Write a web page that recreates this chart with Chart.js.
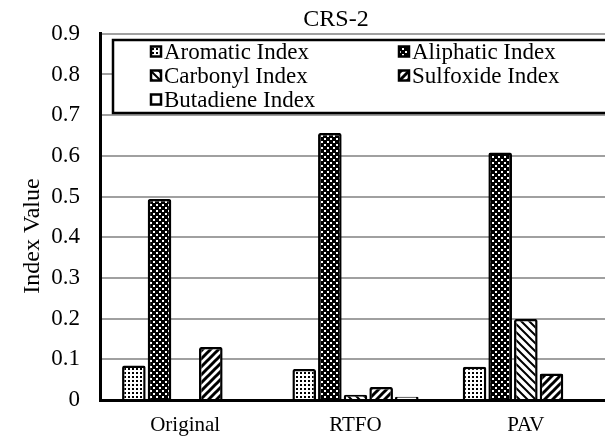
<!DOCTYPE html>
<html><head><meta charset="utf-8">
<script src="https://cdn.jsdelivr.net/npm/chart.js@4"></script>
<style>html,body{margin:0;padding:0;overflow:hidden;background:#fff}#wrap{width:612px;height:439px}</style>
</head><body><div id="wrap"><canvas id="c" width="612" height="439"></canvas></div>
<script>
const categories = ['Original', 'RTFO', 'PAV'];
const seriesNames = ['Aromatic Index', 'Aliphatic Index', 'Carbonyl Index', 'Sulfoxide Index', 'Butadiene Index'];
const aromatic  = [0.085, 0.076, 0.082];
const aliphatic = [0.494, 0.656, 0.608];
const carbonyl  = [0, 0.013, 0.199];
const sulfoxide = [0.130, 0.032, 0.065];
const butadiene = [0, 0.008, 0];
const yMin = 0, yMax = 0.9, yStep = 0.1;
const chartTitle = 'CRS-2';
const yAxisTitle = 'Index Value';

const FONT = '"Liberation Serif", "Times New Roman", serif';

function makePattern(kind) {
  const c = document.createElement('canvas');
  let s = 8;
  if (kind === 'dots') s = 4;
  if (kind === 'checker') s = 6;
  c.width = s; c.height = s;
  const g = c.getContext('2d');
  g.fillStyle = '#fff'; g.fillRect(0, 0, s, s);
  g.fillStyle = '#000'; g.strokeStyle = '#000';
  if (kind === 'dots') {
    g.fillRect(0, 0, 2, 2);
  } else if (kind === 'checker') {
    g.fillRect(0, 0, s, s);
    g.fillStyle = '#fff';
    g.fillRect(0, 0, 2, 2); g.fillRect(3, 3, 2, 2);
  } else if (kind === 'down') {
    g.lineWidth = 2;
    g.beginPath();
    g.moveTo(-2, -2); g.lineTo(s + 2, s + 2);
    g.moveTo(-2, s - 2); g.lineTo(2, s + 2);
    g.moveTo(s - 2, -2); g.lineTo(s + 2, 2);
    g.stroke();
  } else if (kind === 'up') {
    g.lineWidth = 3;
    g.beginPath();
    g.moveTo(-2, s + 2); g.lineTo(s + 2, -2);
    g.moveTo(-2, 2); g.lineTo(2, -2);
    g.moveTo(s - 2, s + 2); g.lineTo(s + 2, s - 2);
    g.stroke();
  } else {
    return '#fff';
  }
  return g.createPattern(c, 'repeat');
}

const fills = [makePattern('dots'), makePattern('checker'), makePattern('down'), makePattern('up'), '#ffffff'];
const seriesData = [aromatic, aliphatic, carbonyl, sulfoxide, butadiene];

const datasets = seriesNames.map((name, i) => ({
  label: name,
  data: seriesData[i],
  backgroundColor: fills[i],
  borderColor: '#000',
  borderWidth: 2.5,
  borderRadius: 2,
  borderSkipped: 'start',
  categoryPercentage: 0.753,
  barPercentage: 0.92
}));

const overlay = {
  id: 'overlay',
  afterDraw(chart) {
    const ctx = chart.ctx;
    ctx.save();
    ctx.fillStyle = '#000';
    ctx.font = '24px ' + FONT;
    ctx.textAlign = 'center';
    ctx.textBaseline = 'middle';
    ctx.fillText(chartTitle, 336, 20);
    ctx.save();
    ctx.translate(33, 236);
    ctx.rotate(-Math.PI / 2);
    ctx.font = '24px ' + FONT;
    ctx.fillText(yAxisTitle, 0, 0);
    ctx.restore();
    ctx.fillStyle = '#fff';
    ctx.fillRect(113, 40, 520, 73);
    ctx.strokeStyle = '#000';
    ctx.lineWidth = 2.5;
    ctx.strokeRect(113, 40, 520, 73);
    const cols = [151, 399];
    const rows = [51.5, 75.5, 99.5];
    ctx.font = '23px ' + FONT;
    ctx.textAlign = 'left';
    seriesNames.forEach((name, i) => {
      const x = cols[i % 2], y = rows[Math.floor(i / 2)];
      ctx.fillStyle = fills[i];
      ctx.fillRect(x, y - 5, 10, 10);
      ctx.lineWidth = 2.5;
      ctx.strokeStyle = '#000';
      ctx.strokeRect(x, y - 5, 10, 10);
      ctx.fillStyle = '#000';
      ctx.fillText(name, x + 13, y + 1);
    });
    ctx.restore();
  }
};

new Chart(document.getElementById('c'), {
  type: 'bar',
  data: { labels: categories, datasets },
  plugins: [overlay],
  options: {
    responsive: false,
    animation: false,
    layout: { padding: { left: 0, top: 29, right: 1, bottom: 0 } },
    plugins: { legend: { display: false }, title: { display: false }, tooltip: { enabled: false } },
    scales: {
      x: {
        grid: { display: false, drawTicks: false },
        border: { color: '#000', width: 3 },
        ticks: { color: '#000', font: { family: FONT, size: 21 }, padding: 13 },
        afterFit(s) { s.height = 39; }
      },
      y: {
        min: yMin, max: yMax,
        grid: { color: '#a0a0a0', lineWidth: 2, drawTicks: false },
        border: { color: '#000', width: 3 },
        ticks: { stepSize: yStep, color: '#000', font: { family: FONT, size: 23 }, padding: 20 },
        afterFit(s) { s.width = 100; }
      }
    }
  }
});
</script></body></html>
